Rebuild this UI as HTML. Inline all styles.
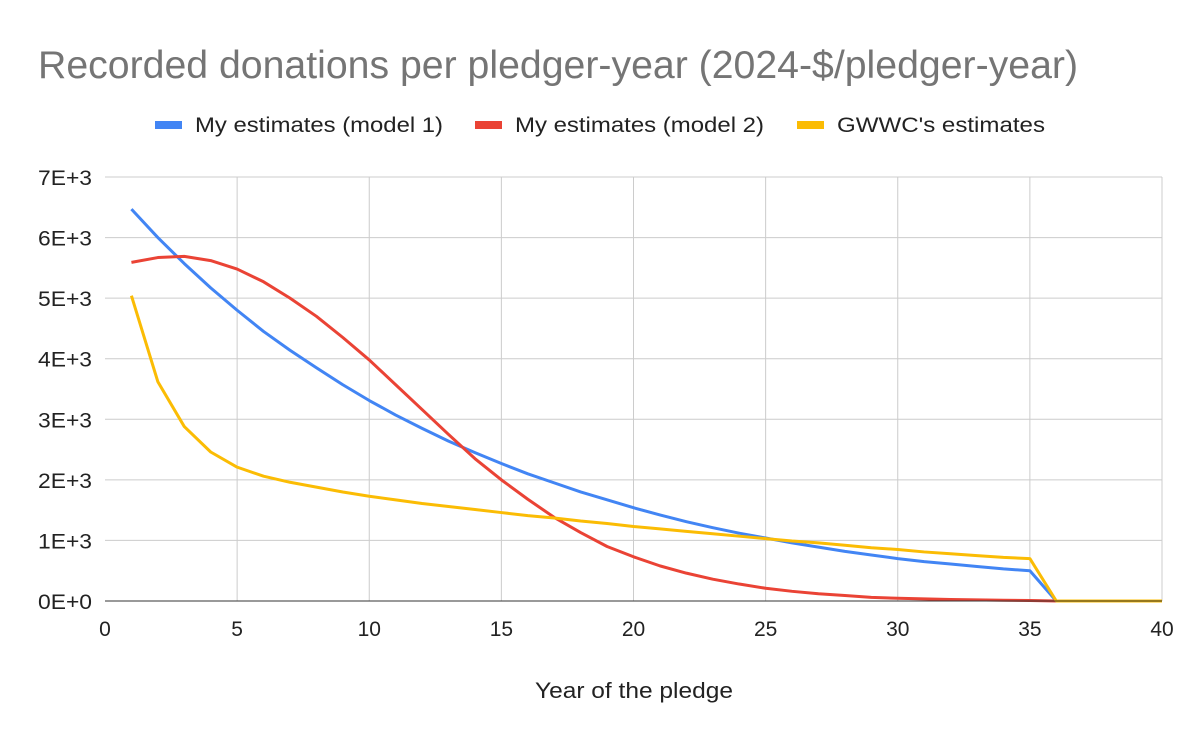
<!DOCTYPE html>
<html><head><meta charset="utf-8"><style>
body{margin:0;background:#fff;font-family:"Liberation Sans",Arial,sans-serif}
svg text{font-family:"Liberation Sans",Arial,sans-serif}
</style></head><body>
<svg id="chart" width="1200" height="742">
<rect width="1200" height="742" fill="#fff"/>
<text x="38" y="78" font-size="39" textLength="1040" lengthAdjust="spacingAndGlyphs" fill="#757575">Recorded donations per pledger-year (2024-$/pledger-year)</text>
<g id="legend"></g>
<g id="grid"></g><g id="series"></g><g id="axes"></g>
<text x="535" y="698" font-size="22" textLength="198" lengthAdjust="spacingAndGlyphs" fill="#222">Year of the pledge</text>
</svg>
<script>
const years=[1,2,3,4,5,6,7,8,9,10,11,12,13,14,15,16,17,18,19,20,21,22,23,24,25,26,27,28,29,30,31,32,33,34,35,36,37,38,39,40];
const model1=[6470,6000,5570,5170,4800,4450,4140,3850,3570,3310,3070,2850,2640,2450,2270,2100,1950,1800,1670,1540,1420,1310,1210,1120,1040,960,890,820,760,700,650,610,570,530,500,0,0,0,0,0];
const model2=[5590,5670,5690,5620,5480,5270,5000,4700,4350,3980,3570,3160,2750,2350,2000,1680,1380,1130,900,730,580,460,360,280,210,160,120,90,60,45,35,25,18,12,8,0,0,0,0,0];
const gwwc=[5040,3620,2880,2460,2210,2060,1960,1880,1800,1730,1670,1610,1560,1510,1460,1410,1370,1320,1280,1230,1190,1150,1110,1070,1030,990,960,920,880,850,810,780,750,720,700,0,0,0,0,0];
const xTicks=[0,5,10,15,20,25,30,35,40];
const yTicks=[0,1000,2000,3000,4000,5000,6000,7000];
const yLabels=["0E+0","1E+3","2E+3","3E+3","4E+3","5E+3","6E+3","7E+3"];
const seriesNames=["My estimates (model 1)","My estimates (model 2)","GWWC's estimates"];
const colors=["#4285f4","#ea4335","#fbbc04"];
const NS="http://www.w3.org/2000/svg";
const X=v=>105+v*(1162-105)/40, Y=v=>601-v*(601-177)/7000;
function mk(t,a,p){const e=document.createElementNS(NS,t);for(const k in a)e.setAttribute(k,a[k]);p.appendChild(e);return e;}
const grid=document.getElementById('grid'),axes=document.getElementById('axes'),ser=document.getElementById('series'),leg=document.getElementById('legend');
yTicks.forEach((v,i)=>{
 const l=mk('line',{x1:105,x2:1162,y1:Y(v),y2:Y(v),stroke:i==0?'#333':'#ccc','stroke-width':1},grid);
 
 
 const t=mk('text',{x:92,y:Y(v)+8,'font-size':21,'text-anchor':'end',fill:'#222',textLength:54,lengthAdjust:'spacingAndGlyphs'},axes);t.textContent=yLabels[i];
 
 
});
xTicks.forEach(v=>{
 if(v>0){const l=mk('line',{x1:X(v),x2:X(v),y1:177,y2:601,stroke:'#ccc','stroke-width':1},grid);
 
 }
 const t=mk('text',{x:X(v),y:636,'font-size':21,'text-anchor':'middle',fill:'#222'},axes);t.textContent=v;
 
 
});
mk('line',{x1:105,x2:1162,y1:601,y2:601,stroke:'#333','stroke-width':1},axes);
[model1,model2,gwwc].forEach((d,i)=>{
 const p=mk('polyline',{points:d.map((v,j)=>X(years[j])+','+Y(v)).join(' '),fill:'none',stroke:colors[i],'stroke-width':3,'stroke-linejoin':'round'},ser);
 
 
});
const lx=[155,475,797];
const lw=[248,249,208];
seriesNames.forEach((n,i)=>{
 const r=mk('rect',{x:lx[i],y:121,width:27,height:8,fill:colors[i]},leg);
 
 
 const t=mk('text',{x:lx[i]+40,y:132,'font-size':21,fill:'#222',textLength:lw[i],lengthAdjust:'spacingAndGlyphs'},leg);t.textContent=n;
 
 
});
</script>
</body></html>
